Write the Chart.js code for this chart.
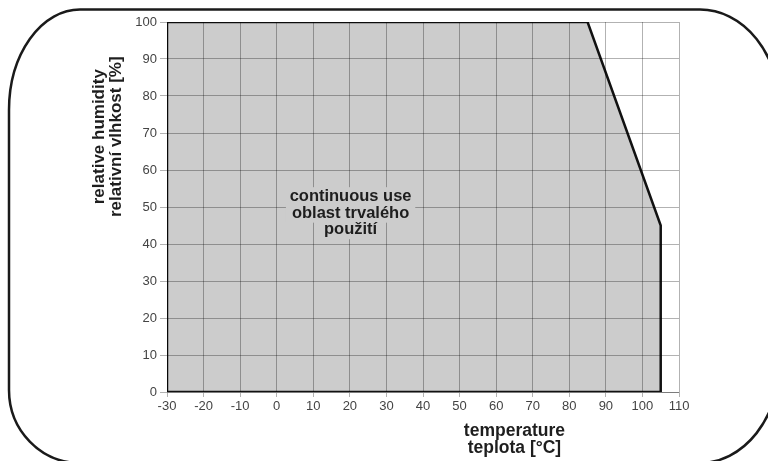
<!DOCTYPE html>
<html>
<head>
<meta charset="utf-8">
<script src="https://cdn.jsdelivr.net/npm/chart.js@4.4.1/dist/chart.umd.min.js"></script>
<style>
  html, body { margin: 0; padding: 0; background: #ffffff; }
  #wrap { width: 768px; height: 461px; position: relative; }
</style>
</head>
<body>
<div id="wrap"><canvas id="c" width="768" height="461"></canvas></div>
<script>
// ---- data ----
const temperature = [-30, -30, 85, 105, 105, -30];   // °C, boundary of the continuous-use area
const humidity    = [0, 100, 100, 45, 0, 0];         // % RH
const xTickLabels = [-30, -20, -10, 0, 10, 20, 30, 40, 50, 60, 70, 80, 90, 100, 110];
const yTickLabels = [0, 10, 20, 30, 40, 50, 60, 70, 80, 90, 100];
const areaLabel   = ['continuous use', 'oblast trvalého', 'použití'];
const yTitle      = ['relative humidity', 'relativní vlhkost [%]'];
const xTitle      = ['temperature', 'teplota [°C]'];

const boundary = temperature.map((t, i) => ({ x: t, y: humidity[i] }));
const areaPoints = boundary.slice(0, boundary.length - 1); // open polygon for the fill

const tickFont = { family: 'Liberation Sans, Arial, sans-serif', size: 13 };
const gridCol = 'rgba(0,0,0,0.3)';
const areaFill = '#cccccc';

const framePlugin = {
  id: 'frame',
  beforeDraw(chart) {
    const ctx = chart.ctx;
    ctx.save();
    ctx.fillStyle = '#ffffff';
    ctx.fillRect(0, 0, chart.width, chart.height);
    ctx.strokeStyle = '#1a1a1a';
    ctx.lineWidth = 2.5;
    ctx.beginPath();
    ctx.moveTo(80, 9.5);
    ctx.lineTo(700, 9.5);
    ctx.ellipse(700, 110, 80, 100.5, 0, -Math.PI / 2, 0);
    ctx.lineTo(780, 361);
    ctx.ellipse(700, 361, 80, 102, 0, 0, Math.PI / 2);
    ctx.lineTo(80, 463);
    ctx.ellipse(80, 390, 71, 73, 0, Math.PI / 2, Math.PI);
    ctx.lineTo(9, 110);
    ctx.ellipse(80, 110, 71, 100.5, 0, Math.PI, Math.PI * 1.5);
    ctx.stroke();
    ctx.restore();
  }
};

const labelsPlugin = {
  id: 'labels',
  afterDraw(chart) {
    const ctx = chart.ctx;
    const xs = chart.scales.x, ys = chart.scales.y;
    const area = chart.chartArea;
    ctx.save();
    ctx.textAlign = 'center';
    ctx.textBaseline = 'alphabetic';

    // area annotation with its own background (hides the grid behind the text)
    ctx.font = 'bold 16.5px "Liberation Sans", Arial, sans-serif';
    const ax = xs.getPixelForValue(20.2);
    const ay = ys.getPixelForValue(48.6);
    areaLabel.forEach((s, i) => {
      const w = ctx.measureText(s).width;
      const by = ay - 11 + i * 16.5;
      ctx.fillStyle = areaFill;
      ctx.fillRect(ax - w / 2 - 6, by - 14, w + 12, 19);
    });
    ctx.fillStyle = '#1e1e1e';
    areaLabel.forEach((s, i) => ctx.fillText(s, ax, ay - 11 + i * 16.5));

    // x title
    ctx.font = 'bold 17.5px "Liberation Sans", Arial, sans-serif';
    const tx = xs.getPixelForValue(65);
    xTitle.forEach((s, i) => ctx.fillText(s, tx, area.bottom + 44 + i * 16.5));

    // y title (rotated)
    ctx.font = 'bold 17px "Liberation Sans", Arial, sans-serif';
    const cy = ys.getPixelForValue(69);
    yTitle.forEach((s, i) => {
      ctx.save();
      ctx.translate(area.left - 63 + i * 17, cy);
      ctx.rotate(-Math.PI / 2);
      ctx.fillText(s, 0, 0);
      ctx.restore();
    });
    ctx.restore();
  }
};

new Chart(document.getElementById('c'), {
  type: 'line',
  data: {
    datasets: [{
      data: areaPoints,
      order: 2,
      fill: 'origin',
      backgroundColor: areaFill,
      borderColor: 'rgba(0,0,0,0)',
      borderWidth: 0,
      pointRadius: 0,
      tension: 0
    }, {
      data: boundary,
      order: 1,
      fill: false,
      borderColor: '#111111',
      borderWidth: 2.5,
      borderJoinStyle: 'miter',
      pointRadius: 0,
      tension: 0
    }]
  },
  options: {
    responsive: false,
    animation: false,
    layout: { padding: { left: 0, right: 89, top: 22, bottom: 0 } },
    plugins: { legend: { display: false }, tooltip: { enabled: false } },
    scales: {
      x: {
        type: 'linear',
        min: xTickLabels[0],
        max: xTickLabels[xTickLabels.length - 1],
        afterBuildTicks(s) { s.ticks = xTickLabels.map(v => ({ value: v })); },
        ticks: { color: '#444', font: tickFont, padding: 2, maxRotation: 0, autoSkip: false, z: 1 },
        grid: { z: 1, color: gridCol, tickColor: gridCol, tickLength: 5, lineWidth: 1 },
        border: { z: 1, color: gridCol },
        afterFit(s) { s.height = 69; }
      },
      y: {
        type: 'linear',
        min: yTickLabels[0],
        max: yTickLabels[yTickLabels.length - 1],
        afterBuildTicks(s) { s.ticks = yTickLabels.map(v => ({ value: v })); },
        ticks: { color: '#444', font: tickFont, padding: 3, autoSkip: false, z: 1 },
        grid: { z: 1, color: gridCol, tickColor: gridCol, tickLength: 7, lineWidth: 1 },
        border: { z: 1, color: gridCol },
        afterFit(s) { s.width = 167; }
      }
    }
  },
  plugins: [framePlugin, labelsPlugin]
});
</script>
</body>
</html>
